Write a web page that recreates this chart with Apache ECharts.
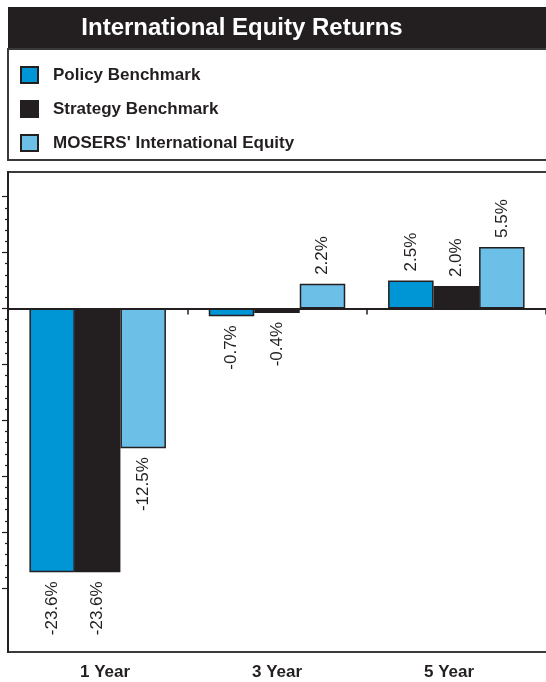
<!DOCTYPE html>
<html>
<head>
<meta charset="utf-8">
<script src="https://cdn.jsdelivr.net/npm/echarts@6/dist/echarts.min.js"></script>
<style>
html,body{margin:0;padding:0;background:#fff;}
#chart{width:546px;height:682px;}
</style>
</head>
<body>
<div id="chart"></div>
<script>
var titleText = 'International Equity Returns';
var categories = ['1 Year', '3 Year', '5 Year'];
var seriesNames = ['Policy Benchmark', 'Strategy Benchmark', "MOSERS' International Equity"];
var policyValues = [-23.6, -0.7, 2.5];
var strategyValues = [-23.6, -0.4, 2.0];
var mosersValues = [-12.5, 2.2, 5.5];
var seriesColors = ['#0096d6', '#231f20', '#6cc0e8'];
var yMajorTicks = [10, 5, 0, -5, -10, -15, -20, -25];
var yMinorTicks = [9, 8, 7, 6, 4, 3, 2, 1, -1, -2, -3, -4, -6, -7, -8, -9, -11, -12, -13, -14, -16, -17, -18, -19, -21, -22, -23, -24];

var INK = '#231f20';
var FONT = 'Liberation Sans, Arial, sans-serif';

function buildData(values) {
  return values.map(function (v) {
    var pos = v >= 0;
    return {
      value: v,
      label: {
        show: true,
        position: pos ? 'top' : 'bottom',
        rotate: 90,
        align: pos ? 'left' : 'right',
        verticalAlign: 'middle',
        distance: 9,
        formatter: function (p) { return p.value.toFixed(1) + '%'; },
        fontSize: 17,
        fontFamily: FONT,
        color: INK
      }
    };
  });
}

var allValues = [policyValues, strategyValues, mosersValues];
var series = allValues.map(function (vals, i) {
  return {
    name: seriesNames[i],
    type: 'bar',
    xAxisIndex: 0,
    yAxisIndex: 0,
    barWidth: 45.5,
    barGap: '0%',
    data: buildData(vals),
    itemStyle: { color: seriesColors[i], borderColor: INK, borderWidth: 1.5 },
    emphasis: { disabled: true },
    animation: false
  };
});

var chart = echarts.init(document.getElementById('chart'), null, { renderer: 'canvas' });
chart.setOption({
  animation: false,
  backgroundColor: '#ffffff',
  graphic: [
    { type: 'rect', shape: { x: 8, y: 7, width: 560, height: 42 }, style: { fill: INK }, z: 0 },
    { type: 'rect', shape: { x: 8, y: 49, width: 560, height: 111 }, style: { fill: 'none', stroke: '#3a3a3a', lineWidth: 2 }, z: 0 },
    { type: 'rect', shape: { x: 8, y: 172, width: 560, height: 480 }, style: { fill: 'none', stroke: '#3a3a3a', lineWidth: 2 }, z: 0 },
    { type: 'text', x: 242, y: 28, style: { text: titleText, fill: '#ffffff', fontSize: 24, fontWeight: 'bold', fontFamily: FONT, textAlign: 'center', textVerticalAlign: 'middle' }, z: 10 }
  ],
  legend: {
    orient: 'vertical',
    left: 20,
    top: 66,
    padding: 0,
    itemWidth: 17,
    itemHeight: 16,
    itemGap: 16,
    icon: 'rect',
    selectedMode: false,
    textStyle: { fontSize: 17, fontWeight: 'bold', fontFamily: FONT, color: INK, padding: [0, 0, 0, 10] },
    data: seriesNames
  },
  grid: [
    { left: 8, width: 541.5, top: 172, bottom: 30, containLabel: false },
    { left: 19, width: 516, top: 172, bottom: 30, containLabel: false }
  ],
  xAxis: [
    {
      type: 'category', gridIndex: 0, data: categories,
      axisLine: { onZero: true, lineStyle: { color: INK, width: 2 } },
      axisTick: { show: true, interval: 0, length: 6, lineStyle: { color: INK, width: 1.5 } },
      axisLabel: { show: false },
      splitLine: { show: false }
    },
    {
      type: 'category', gridIndex: 1, data: categories, position: 'bottom',
      axisLine: { show: false }, axisTick: { show: false },
      axisLabel: { show: true, margin: 12, fontSize: 17, fontWeight: 'bold', fontFamily: FONT, color: INK },
      splitLine: { show: false }
    }
  ],
  yAxis: [
    {
      type: 'value', gridIndex: 0, min: -30.72, max: 12.2, position: 'left',
      axisLine: { show: true, lineStyle: { color: INK, width: 2 } },
      axisTick: { show: true, customValues: yMajorTicks, length: 6, lineStyle: { color: INK, width: 1.2 } },
      axisLabel: { show: false, customValues: yMajorTicks },
      splitLine: { show: false }
    },
    {
      type: 'value', gridIndex: 0, min: -30.72, max: 12.2, position: 'left', offset: 0,
      axisLine: { show: false },
      axisTick: { show: true, customValues: yMinorTicks, length: 3, lineStyle: { color: INK, width: 1.2 } },
      axisLabel: { show: false, customValues: yMinorTicks },
      splitLine: { show: false }
    },
    {
      type: 'value', gridIndex: 1, min: 0, max: 1, show: false
    }
  ],
  series: series
});
</script>
</body>
</html>
